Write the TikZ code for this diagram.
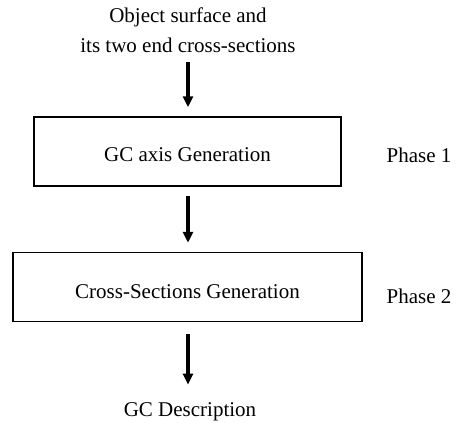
\documentclass[tikz,border=0pt]{standalone}
\usepackage{fontspec}
\setmainfont{Liberation Serif}
\usetikzlibrary{arrows.meta,positioning}

\begin{document}
\begin{tikzpicture}[x=1pt,y=-1pt,
  phase box/.style={draw, line width=1.5pt, minimum height=69pt, inner sep=0pt},
  flow/.style={line width=3.5pt, -{Triangle[width=10pt,length=11pt]}, shorten >=9pt, shorten <=9pt}]
  \tikzstyle{every node}=[font=\fontsize{21}{30}\selectfont]
  \useasboundingbox (0,0) rectangle (456,423);

  \node[align=center, inner sep=0pt] (input) at (188,30) {Object surface and\\its two end cross-sections};
  \node[phase box, minimum width=307pt] (axis) at (187.5,151.5) {\raisebox{-3pt}[\height][\depth]{GC axis Generation}};
  \node[phase box, minimum width=349pt] (sect) at (187.5,287) {\raisebox{-5pt}[\height][\depth]{Cross-Sections Generation}};
  \node[inner sep=0pt] (out) at (190,412) {GC Description};
  \node[inner sep=0pt] (p1) at (419,155) {Phase 1};
  \node[inner sep=0pt] (p2) at (419,296) {Phase 2};

  % the three arrows of the flow
  \draw[flow] (input.south -| 188,0) -- (axis.north -| 188,0);
  \draw[flow] (axis.south -| 188,0) -- (sect.north -| 188,0);
  \draw[flow, shorten <=12pt, shorten >=18pt] (sect.south -| 188,0) -- (out.north -| 188,0);
\end{tikzpicture}
\end{document}
